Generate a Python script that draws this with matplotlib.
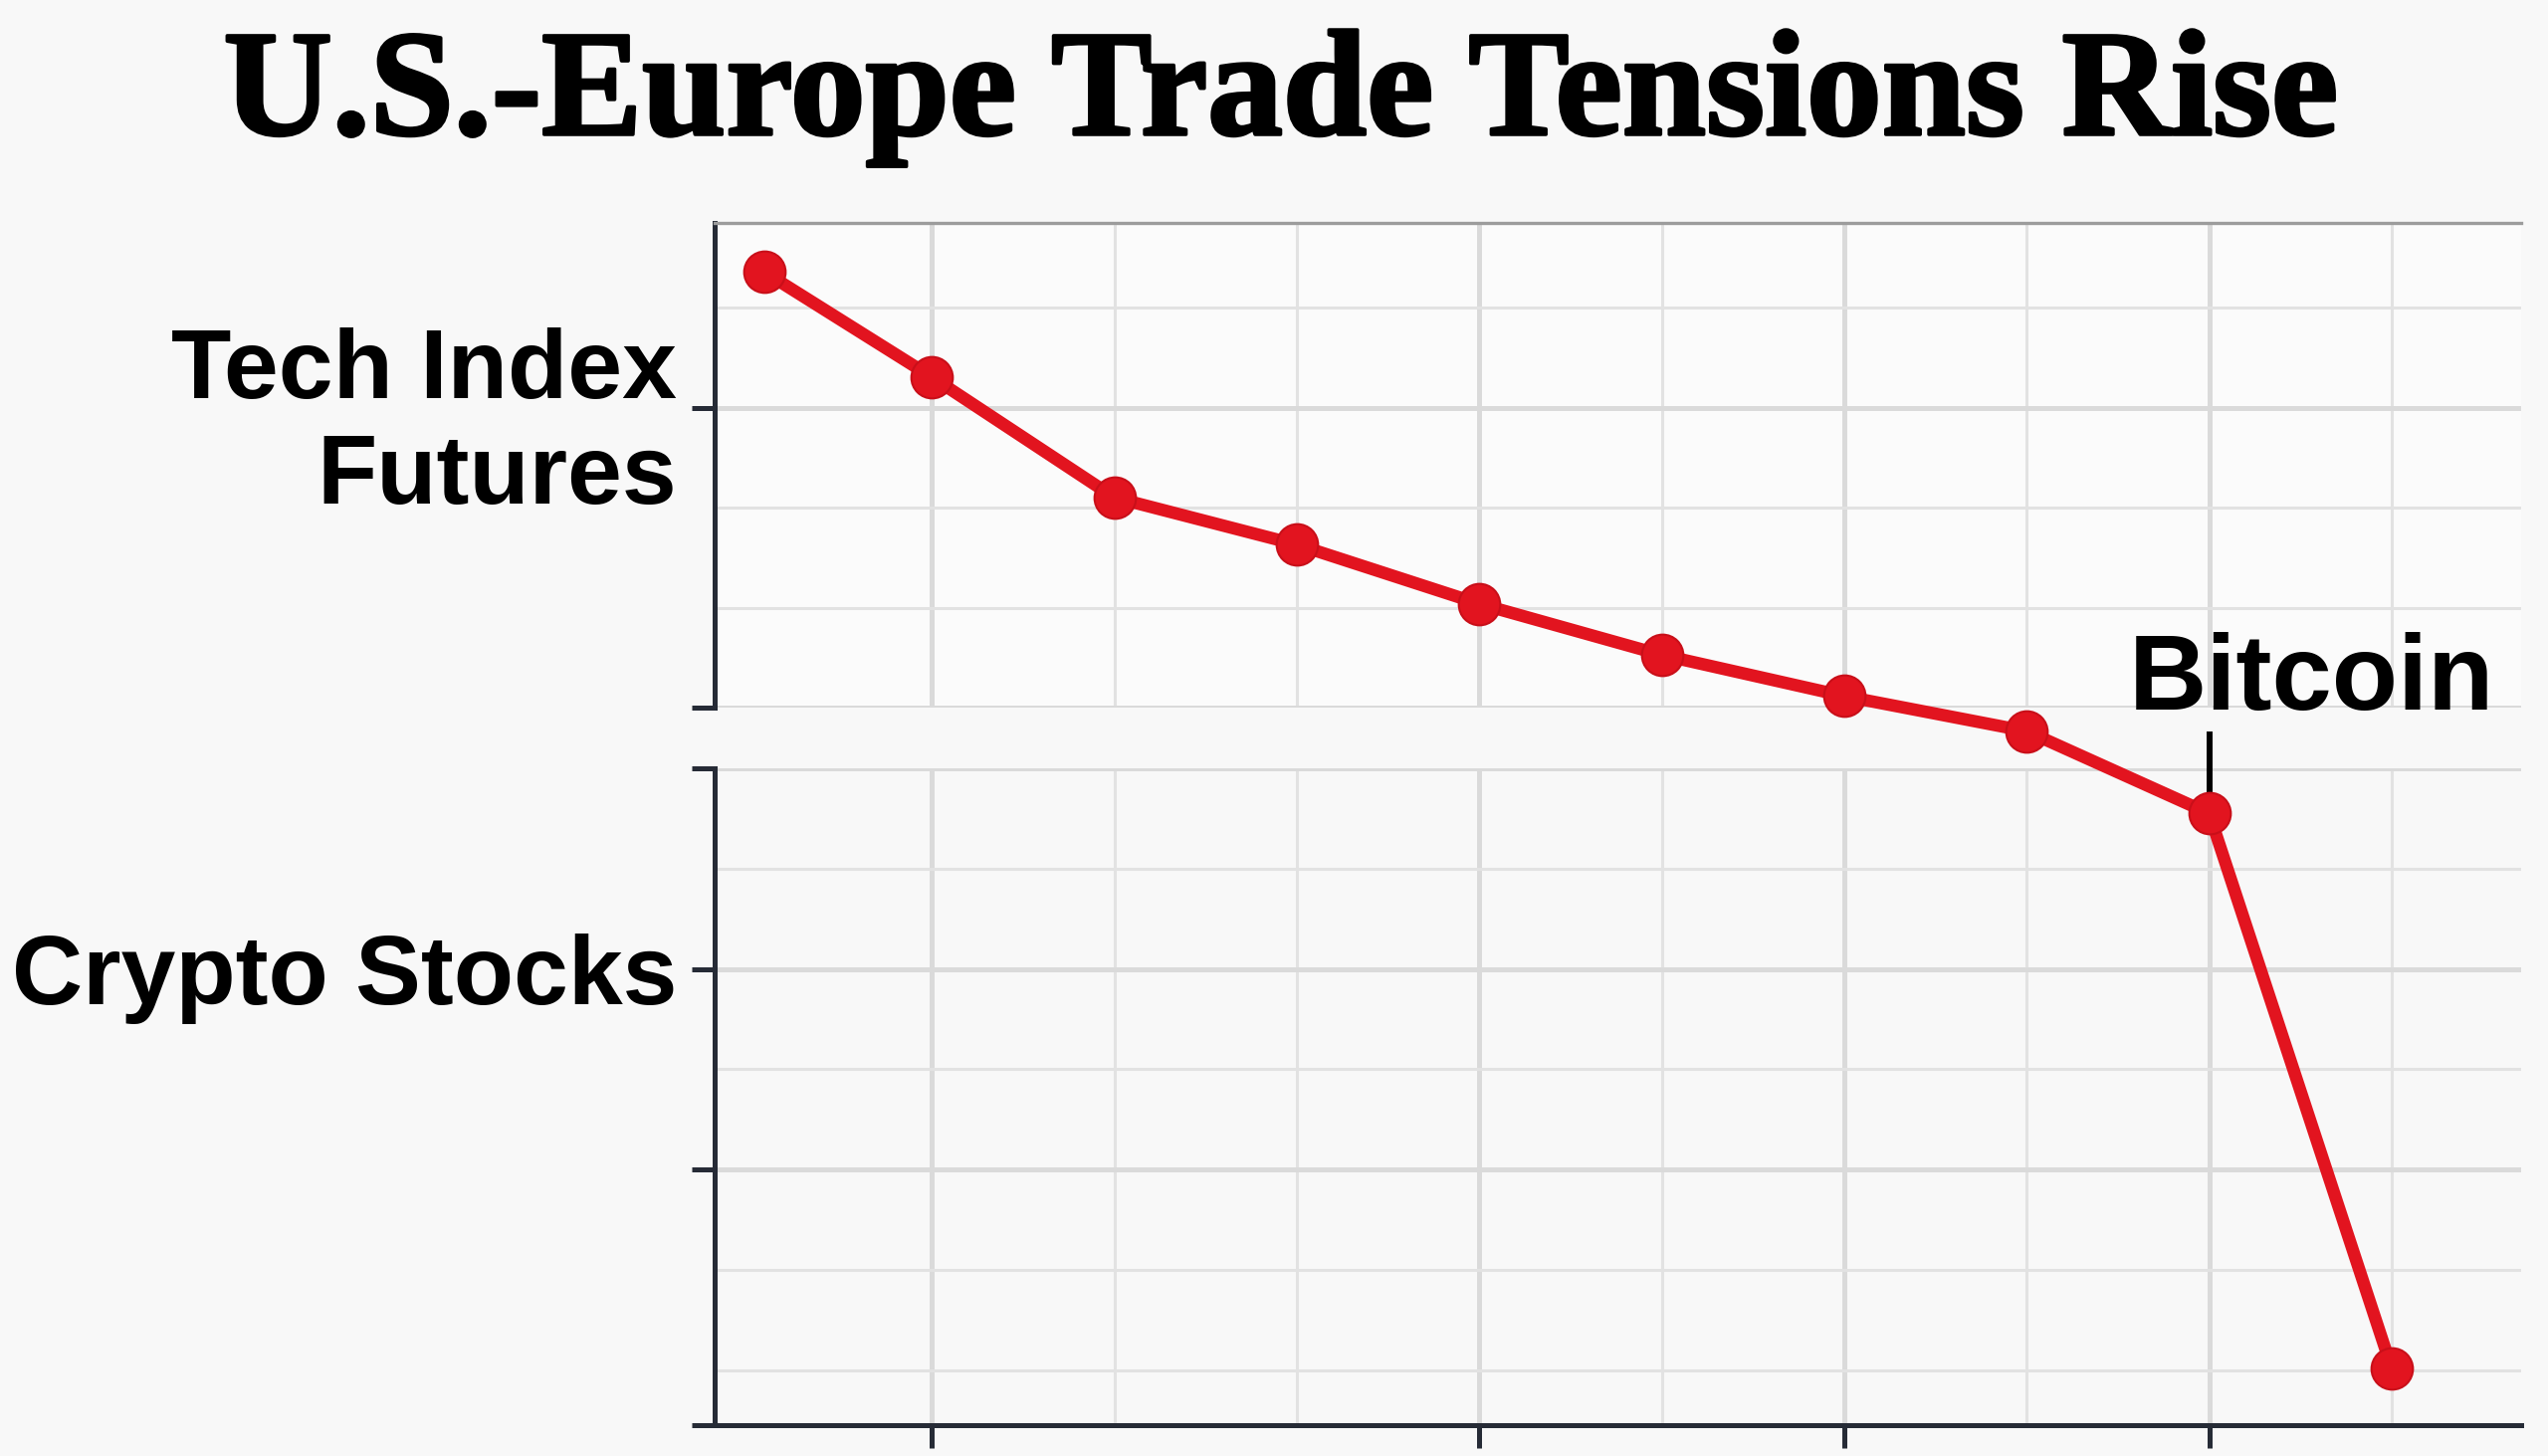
import matplotlib
matplotlib.use("Agg")
import matplotlib.pyplot as plt
import matplotlib.patheffects as pe

# data (one continuous scale across the axis break)
x_pos = [0.08, 1, 2, 3, 4, 5, 6, 7, 8, 9]
values = [10.95, 9.90, 8.70, 8.23, 7.64, 7.13, 6.72, 6.37, 5.55, 0.02]
title = "U.S.-Europe Trade Tensions Rise"
top_label = "Tech Index\nFutures"
bottom_label = "Crypto Stocks"
callout = "Bitcoin"
callout_idx = 8

RED = "#e2141f"
SPINE = "#262b36"

fig = plt.figure(figsize=(25.6, 14.63), dpi=100)
fig.patch.set_facecolor("#f8f8f8")

ax_top = fig.add_axes([0.2805, 0.5140, 0.709, 0.3329])
ax_bot = fig.add_axes([0.2805, 0.0212, 0.709, 0.4511])

for ax in (ax_top, ax_bot):
    ax.set_facecolor("#fbfbfb")
    ax.set_xlim(-0.19, 9.71)
    ax.set_xticks([1, 4, 6, 8])
    ax.set_xticks([2, 3, 5, 7, 9], minor=True)
    ax.grid(which="major", color="#dadada", linewidth=3.6)
    ax.grid(which="minor", color="#e2e2e2", linewidth=2.2)
    ax.set_axisbelow(True)
    ax.spines["right"].set_visible(False)
    ax.spines["left"].set_color(SPINE)
    ax.spines["left"].set_linewidth(3.6)
    ax.tick_params(which="major", length=16.5, width=3.6, color=SPINE, pad=11)
    ax.tick_params(which="minor", length=0)
    ax.set_xticklabels([])

# top panel
ax_top.set_ylim(0, 4.846)
ax_top.set_yticks([0, 3])
ax_top.set_yticks([1, 2, 4], minor=True)
ax_top.set_yticklabels(["", top_label])
ax_top.spines["bottom"].set_visible(False)
ax_top.spines["top"].set_color("#9c9c9c")
ax_top.spines["top"].set_linewidth(2.4)
ax_top.tick_params(axis="x", which="both", length=0)

# bottom panel
ax_bot.set_ylim(-0.547, 6.0)
ax_bot.set_yticks([-0.547, 2, 4, 6])
ax_bot.set_yticks([0, 1, 3, 5], minor=True)
ax_bot.set_yticklabels(["", "", bottom_label, ""])
ax_bot.spines["top"].set_visible(False)
ax_bot.spines["bottom"].set_color(SPINE)
ax_bot.spines["bottom"].set_linewidth(3.6)
ax_bot.set_facecolor("none")

for ax in (ax_top, ax_bot):
    for lab in ax.get_yticklabels():
        lab.set_fontfamily("Liberation Sans")
        lab.set_fontweight("bold")
        lab.set_fontsize(71)
        lab.set_linespacing(1.22)

# the line crosses the break, so draw it unclipped on the lower panel
ax_bot.plot(x_pos, values, color=RED, linewidth=9, marker="o", markersize=30,
            markerfacecolor=RED, markeredgecolor="#c90f19", markeredgewidth=1.5,
            clip_on=False, zorder=5)

# Bitcoin callout
bx, by = x_pos[callout_idx], values[callout_idx]
ax_bot.plot([bx, bx], [by + 0.2, by + 0.82], color="black", linewidth=4.3,
            solid_capstyle="butt", clip_on=False, zorder=4)
ax_bot.annotate(callout, xy=(bx, by), xytext=(-58, 75), textcoords="offset points",
                ha="left", va="baseline", fontsize=78, fontweight="bold",
                family="Liberation Sans", color="black", annotation_clip=False,
                zorder=6)

fig.text(0.5025, 0.9077, title, ha="center", va="baseline", fontsize=109,
         family="Liberation Serif", fontweight="bold", color="black",
         path_effects=[pe.withStroke(linewidth=2.5, foreground="black")])

fig.savefig("out.png", dpi=100, facecolor=fig.get_facecolor())
